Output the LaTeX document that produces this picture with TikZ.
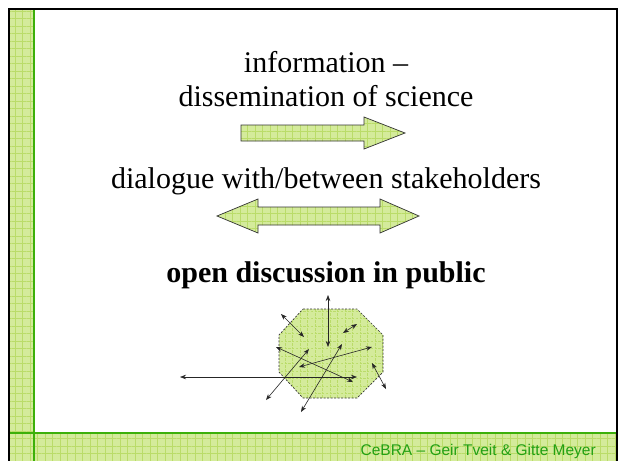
\documentclass[tikz,border=0pt]{standalone}
\usepackage{fontspec}
\setmainfont{Liberation Serif}
\newfontfamily\footfont{Liberation Sans}
\usetikzlibrary{patterns.meta,arrows.meta}
\definecolor{lgreen}{RGB}{212,235,155}
\definecolor{hgreen}{RGB}{186,220,105}
\definecolor{dgreen}{RGB}{60,176,10}
\definecolor{ftgreen}{RGB}{34,160,20}
\tikzset{
  hatch/.style={preaction={fill=lgreen}, pattern={Hatch[angle=0,distance=7.5pt,line width=0.5pt]}, pattern color=hgreen},
  bigarrow/.style={hatch, draw=black!80, line width=0.7pt},
  title/.style={font=\fontsize{30}{36}\selectfont, anchor=base},
  smallarr/.style={draw=black!85, line width=0.6pt, {Stealth[length=6pt,width=4.5pt]}-{Stealth[length=6pt,width=4.5pt]}},
  octa/.style={hatch, draw=black!80, line width=0.7pt, dash pattern=on 2pt off 1.5pt}
}
\begin{document}
\begin{tikzpicture}[x=1pt,y=-1pt]
\useasboundingbox (0,0) rectangle (622,461);
\fill[white] (0,0) rectangle (622,461);
% frame bands
\path[hatch] (10,10) rectangle (34,461);
\path[hatch] (10,433) rectangle (617,461);
\draw[dgreen, line width=1.6pt] (34,10) -- (34,461);
\draw[dgreen, line width=1.6pt] (10,433) -- (617,433);
\draw[black, line width=2pt] (9,461) -- (9,9) -- (617,9) -- (617,461);
% texts
\node[title] (t1) at (326,72) {information –};
\node[title] (t2) at (326,106) {dissemination of science};
\node[title] (t3) at (326,188) {dialogue with/between stakeholders};
\node[title, font=\fontsize{30}{36}\selectfont\bfseries] (t4) at (326,282) {open discussion in public};
\node[anchor=base east, text=ftgreen, font=\footfont\fontsize{15.5}{18}\selectfont, inner sep=0pt] (ft) at (596,455) {CeBRA – Geir Tveit \& Gitte Meyer};
% big arrows
\path[bigarrow] (241,125) -- (364,125) -- (364,117) -- (405,133) -- (364,149) -- (364,141) -- (241,141) -- cycle;
\path[bigarrow] (217,216) -- (258,199) -- (258,207) -- (380,207) -- (380,199) -- (419,216) -- (380,233) -- (380,225) -- (258,225) -- (258,233) -- cycle;
% octagon
\path[octa] (303,309) -- (357,309) -- (383,335) -- (383,372) -- (357,398) -- (303,398) -- (279,372) -- (279,335) -- cycle;
% small arrows
\coordinate (a1) at (180,377); \coordinate (b1) at (357,377);
\coordinate (a2) at (328,295); \coordinate (b2) at (328,347);
\coordinate (a3) at (281,314); \coordinate (b3) at (304,337);
\coordinate (a4) at (343,333); \coordinate (b4) at (357,324);
\coordinate (a5) at (276,347); \coordinate (b5) at (353,382);
\coordinate (a6) at (299,367); \coordinate (b6) at (372,347);
\coordinate (a7) at (266,400); \coordinate (b7) at (309,349);
\coordinate (a8) at (301,412); \coordinate (b8) at (342,344);
\coordinate (a9) at (372,363); \coordinate (b9) at (386,389);
\foreach \i in {1,...,9} { \draw[smallarr] (a\i) -- (b\i); }
\end{tikzpicture}
\end{document}
